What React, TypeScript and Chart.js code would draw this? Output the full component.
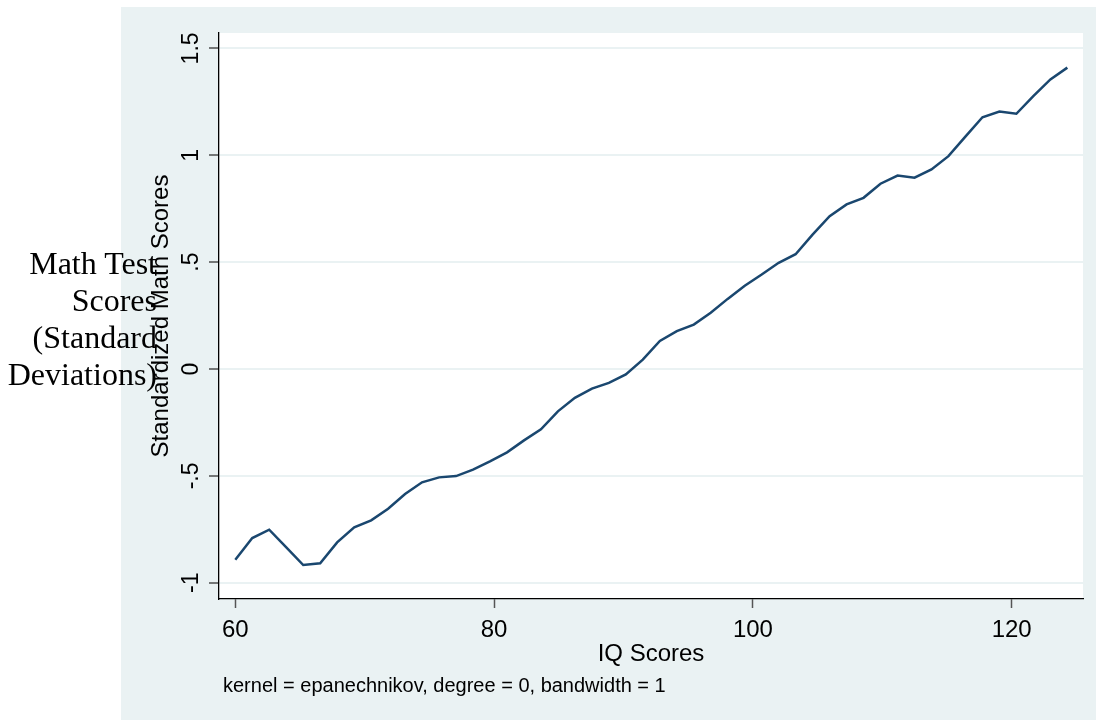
import React, { useEffect, useRef } from "react";
import { Chart, registerables } from "chart.js";

Chart.register(...registerables);

// Grid of IQ scores (local polynomial smoothing evaluation points)
const IQ_SCORES = [
  60.0, 61.31, 62.62, 63.94, 65.25, 66.56, 67.87, 69.19, 70.5, 71.81,
  73.12, 74.43, 75.75, 77.06, 78.37, 79.68, 81.0, 82.31, 83.62, 84.93,
  86.24, 87.56, 88.87, 90.18, 91.49, 92.81, 94.12, 95.43, 96.74, 98.05,
  99.37, 100.68, 101.99, 103.3, 104.61, 105.93, 107.24, 108.55, 109.86, 111.18,
  112.49, 113.8, 115.11, 116.42, 117.74, 119.05, 120.36, 121.67, 122.99, 124.3,
];

// Smoothed standardized math scores
const MATH_SCORES = [
  -0.892, -0.791, -0.752, -0.835, -0.917, -0.909, -0.811, -0.741, -0.708, -0.654,
  -0.585, -0.53, -0.507, -0.501, -0.471, -0.432, -0.39, -0.334, -0.282, -0.198,
  -0.135, -0.092, -0.065, -0.025, 0.044, 0.131, 0.177, 0.208, 0.263, 0.328,
  0.39, 0.442, 0.497, 0.537, 0.629, 0.715, 0.77, 0.801, 0.867, 0.905,
  0.895, 0.934, 0.996, 1.087, 1.178, 1.205, 1.194, 1.277, 1.355, 1.41,
];

const X_TICKS = [60, 80, 100, 120];
const Y_TICKS = [-1, -0.5, 0, 0.5, 1, 1.5];
const Y_TICK_LABELS = ["-1", "-.5", "0", ".5", "1", "1.5"];

const X_TITLE = "IQ Scores";
const Y_TITLE = "Standardized Math Scores";
const NOTE = "kernel = epanechnikov, degree = 0, bandwidth = 1";
const SIDE_LABEL = ["Math Test", "Scores", "(Standard", "Deviations)"];

const PANEL = "#eaf2f3";
const LINE = "#1a476f";
const SANS = '"Liberation Sans", Arial, Helvetica, sans-serif';
const SERIF = '"Liberation Serif", "Times New Roman", Times, serif';

const bgPlugin = {
  id: "stataBg",
  beforeDraw(chart: any) {
    const { ctx, chartArea, width, height } = chart;
    ctx.save();
    ctx.fillStyle = PANEL;
    ctx.fillRect(0, 0, width, height);
    ctx.fillStyle = "#ffffff";
    ctx.fillRect(
      chartArea.left,
      chartArea.top,
      chartArea.right - chartArea.left,
      chartArea.bottom - chartArea.top
    );
    ctx.restore();
  },
};

export default function App() {
  const ref = useRef<HTMLCanvasElement>(null);

  useEffect(() => {
    if (!ref.current) return;
    const points = IQ_SCORES.map((x, i) => ({ x, y: MATH_SCORES[i] }));
    const chart = new Chart(ref.current, {
      type: "line",
      data: {
        datasets: [
          {
            data: points,
            borderColor: LINE,
            borderWidth: 2.5,
            pointRadius: 0,
            tension: 0,
            fill: false,
          },
        ],
      },
      options: {
        animation: false,
        responsive: false,
        devicePixelRatio: 1,
        layout: { padding: { left: 0, right: 13, top: 26, bottom: 0 } },
        plugins: {
          legend: { display: false },
          tooltip: { enabled: false },
        },
        scales: {
          x: {
            type: "linear",
            min: 58.74,
            max: 125.51,
            afterBuildTicks: (s: any) => {
              s.ticks = X_TICKS.map((v) => ({ value: v }));
            },
            afterFit: (s: any) => {
              s.height = 121;
            },
            ticks: {
              autoSkip: false,
              maxRotation: 0,
              padding: 7.6,
              color: "#000",
              font: { family: SANS, size: 24 },
              callback: (v: any) => String(v),
            },
            grid: {
              drawOnChartArea: false,
              drawTicks: true,
              tickLength: 9,
              tickColor: "#555",
              tickWidth: 1.5,
            },
            border: { display: true, color: "#000", width: 1.3 },
            title: {
              display: true,
              text: X_TITLE,
              color: "#000",
              font: { family: SANS, size: 24 },
              padding: { top: 0, bottom: 50.9 },
            },
          },
          y: {
            type: "linear",
            min: -1.076,
            max: 1.572,
            afterBuildTicks: (s: any) => {
              s.ticks = Y_TICKS.map((v) => ({ value: v }));
            },
            afterFit: (s: any) => {
              s.width = 98;
            },
            ticks: {
              autoSkip: false,
              minRotation: 90,
              maxRotation: 90,
              crossAlign: "center",
              padding: 1,
              color: "#000",
              font: { family: SANS, size: 23 },
              callback: (v: any) => {
                const i = Y_TICKS.indexOf(Number(v));
                return i >= 0 ? Y_TICK_LABELS[i] : "";
              },
            },
            grid: {
              color: PANEL,
              lineWidth: 2,
              drawTicks: true,
              tickLength: 10,
              tickColor: "#333",
              tickWidth: 1.3,
            },
            border: { display: true, color: "#000", width: 1.3 },
            title: {
              display: true,
              text: Y_TITLE,
              color: "#000",
              font: { family: SANS, size: 24 },
              padding: { top: 26.1, bottom: 0 },
            },
          },
        },
      } as any,
      plugins: [bgPlugin],
    });
    return () => chart.destroy();
  }, []);

  return (
    <div
      style={{
        position: "absolute",
        left: 0,
        top: 0,
        width: 1096,
        height: 723,
        background: "#ffffff",
        overflow: "hidden",
      }}
    >
      <canvas
        ref={ref}
        width={975}
        height={713}
        style={{ position: "absolute", left: 121, top: 7, width: 975, height: 713 }}
      />
      <div
        style={{
          position: "absolute",
          left: 0,
          top: 245,
          width: 157,
          textAlign: "right",
          fontFamily: SERIF,
          fontSize: 32,
          lineHeight: "37.1px",
          color: "#000",
          whiteSpace: "nowrap",
        }}
      >
        {SIDE_LABEL.map((t, i) => (
          <div key={i}>{t}</div>
        ))}
      </div>
      <div
        style={{
          position: "absolute",
          left: 223,
          top: 675,
          fontFamily: SANS,
          fontSize: 20,
          lineHeight: "20px",
          color: "#000",
          whiteSpace: "nowrap",
        }}
      >
        {NOTE}
      </div>
    </div>
  );
}
